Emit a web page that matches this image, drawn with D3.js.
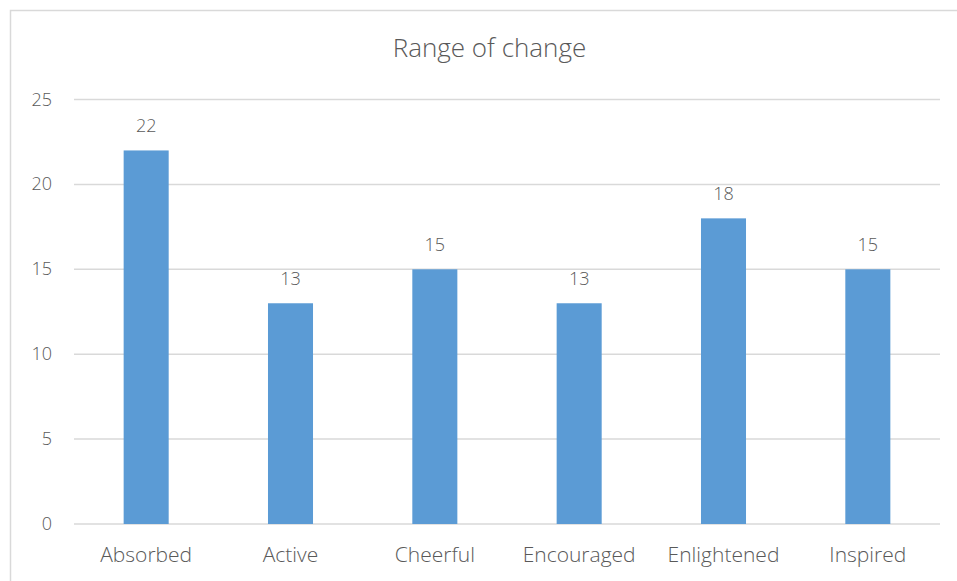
<!DOCTYPE html>
<html>
<head>
<meta charset="utf-8">
<script src="https://cdn.jsdelivr.net/npm/d3@7"></script>
<style>
  body { margin: 0; background: #fff; }
  text { font-family: "Open Sans", sans-serif; font-weight: 300; fill: #595959; }
</style>
</head>
<body>
<svg id="chart" width="957" height="581"></svg>
<script>
// chart data
var categories = ["Absorbed", "Active", "Cheerful", "Encouraged", "Enlightened", "Inspired"]
var values = [22, 13, 15, 13, 18, 15]
var yTicks = [0, 5, 10, 15, 20, 25]
var title = "Range of change"

var svg = d3.select('#chart')

// outer frame, runs off the right and bottom edges
svg.append('rect')
	.attr('x', 10.5).attr('y', 10.5)
	.attr('width', 958).attr('height', 580)
	.attr('fill', '#fff')
	.attr('stroke', '#d9d9d9')
	.attr('stroke-width', 1.5)

var plotLeft = 74, plotRight = 940, plotTop = 99.5, plotBottom = 524

var x = d3.scaleBand()
	.domain(categories)
	.range([plotLeft, plotRight])
	.paddingInner(0.688)
	.paddingOuter(0.344)

var y = d3.scaleLinear()
	.domain([0, 25])
	.range([plotBottom, plotTop])

// gridlines
svg.append('g')
	.selectAll('line')
	.data(yTicks)
	.join('line')
		.attr('x1', plotLeft).attr('x2', plotRight)
		.attr('y1', d => y(d)).attr('y2', d => y(d))
		.attr('stroke', '#d9d9d9')
		.attr('stroke-width', 1.5)

// y tick labels
svg.append('g')
	.selectAll('text')
	.data(yTicks)
	.join('text')
		.attr('x', 52)
		.attr('y', d => y(d) + 6)
		.attr('text-anchor', 'end')
		.style('font-size', '18px')
		.text(d => d)

// bars
svg.append('g')
	.selectAll('rect')
	.data(values)
	.join('rect')
		.attr('x', (d, i) => x(categories[i]))
		.attr('y', d => y(d))
		.attr('width', x.bandwidth())
		.attr('height', d => y(0) - y(d))
		.attr('fill', '#5b9bd5')

// value labels
svg.append('g')
	.selectAll('text')
	.data(values)
	.join('text')
		.attr('x', (d, i) => x(categories[i]) + x.bandwidth() / 2)
		.attr('y', d => y(d) - 18)
		.attr('text-anchor', 'middle')
		.style('font-size', '18px')
		.text(d => d)

// category labels
svg.append('g')
	.selectAll('text')
	.data(categories)
	.join('text')
		.attr('x', d => x(d) + x.bandwidth() / 2)
		.attr('y', 562)
		.attr('text-anchor', 'middle')
		.style('font-size', '21px')
		.text(d => d)

// title
svg.append('text')
	.attr('x', 489.5)
	.attr('y', 57)
	.attr('text-anchor', 'middle')
	.style('font-size', '26px')
	.text(title)
</script>
</body>
</html>
